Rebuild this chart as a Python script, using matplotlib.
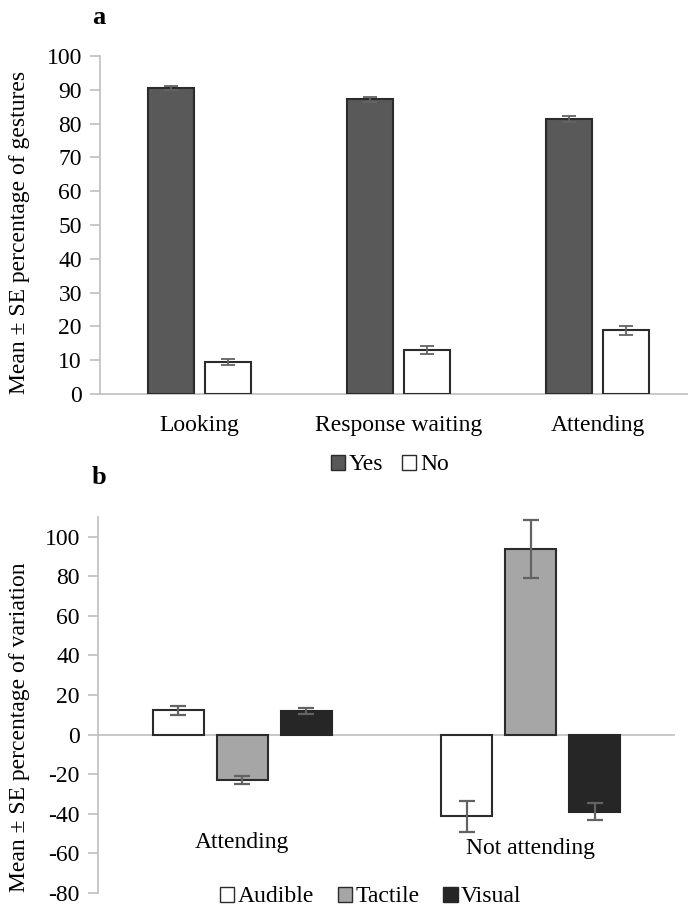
import numpy as np
import matplotlib.pyplot as plt
from matplotlib.patches import Patch

plt.rcParams['font.family'] = ['Liberation Serif', 'DejaVu Serif']
plt.rcParams['axes.unicode_minus'] = False

# panel a
cats_a = ['Looking', 'Response waiting', 'Attending']
yes_mean = [90.6, 87.2, 81.3]
yes_se = [0.6, 0.7, 0.9]
no_mean = [9.5, 13.0, 18.8]
no_se = [0.9, 1.1, 1.2]

# panel b
cats_b = ['Attending', 'Not attending']
aud_mean = [12.3, -41.4]
aud_se = [2.3, 8.0]
tac_mean = [-22.9, 94.0]
tac_se = [2.0, 14.7]
vis_mean = [12.0, -39.0]
vis_se = [1.4, 4.4]

axis_col = '#bfbfbf'
err_col = '#636363'
edge_col = '#2b2b2b'
fs = 17

fig = plt.figure(figsize=(6.88, 9.10), dpi=100)

# ---------- a ----------
ax1 = fig.add_axes([100/688, 1-394/910, 597/688, 338/910])
x = np.arange(len(cats_a))
w = 0.231
ax1.bar(x - 0.143, yes_mean, w, yerr=yes_se, color='#595959', edgecolor=edge_col,
        linewidth=1.5, error_kw=dict(ecolor=err_col, elinewidth=1.3, capsize=5, capthick=1.3))
ax1.bar(x + 0.143, no_mean, w, yerr=no_se, color='white', edgecolor=edge_col,
        linewidth=1.5, error_kw=dict(ecolor=err_col, elinewidth=1.3, capsize=5, capthick=1.3))
ax1.set_xlim(-0.5, 2.5)
ax1.set_ylim(0, 100)
ax1.set_yticks(np.arange(0, 101, 10))
ax1.set_xticks(x)
ax1.set_xticklabels(cats_a)
for s in ['top', 'right']:
    ax1.spines[s].set_visible(False)
for s in ['left', 'bottom']:
    ax1.spines[s].set_color(axis_col)
    ax1.spines[s].set_linewidth(1.2)
ax1.tick_params(axis='y', colors=axis_col, labelcolor='black', labelsize=fs, length=7, width=1.2, pad=6)
ax1.tick_params(axis='x', length=0, labelsize=fs, pad=15)
ax1.spines['bottom'].set_zorder(0)

fig.text(20/688, 1-232/910, 'Mean ± SE percentage of gestures', rotation=90,
         ha='center', va='center', fontsize=fs)
fig.text(99/688, 1-17/910, 'a', fontsize=19, fontweight='bold', ha='center', va='center')

leg_a = [Patch(facecolor='#595959', edgecolor=edge_col, label='Yes'),
         Patch(facecolor='white', edgecolor=edge_col, label='No')]
fig.legend(handles=leg_a, loc='center', bbox_to_anchor=(390/688, 1-465/910), ncol=2,
           frameon=False, fontsize=fs, handlelength=0.6, handleheight=0.6,
           handletextpad=0.15, columnspacing=0.8)

# ---------- b ----------
ax2 = fig.add_axes([98/688, 1-892.7/910, 577/688, (892.7-517)/910])
xb = np.arange(len(cats_b))
wb = 0.177
off = 0.222
ekw = dict(ecolor=err_col, elinewidth=1.6, capsize=6, capthick=1.6)
ax2.bar(xb - off, aud_mean, wb, yerr=aud_se, color='white', edgecolor=edge_col,
        linewidth=1.5, error_kw=ekw)
ax2.bar(xb, tac_mean, wb, yerr=tac_se, color='#a6a6a6', edgecolor=edge_col,
        linewidth=1.5, error_kw=ekw)
ax2.bar(xb + off, vis_mean, wb, yerr=vis_se, color='#262626', edgecolor='#262626',
        linewidth=1.5, error_kw=ekw)
ax2.axhline(0, color=axis_col, linewidth=1.2, zorder=0)
ax2.set_xlim(-0.5, 1.5)
ax2.set_ylim(-80, 110)
yt = np.arange(-80, 101, 20)
ax2.set_yticks(yt)
ax2.set_yticklabels([str(v) for v in yt])
ax2.set_xticks([])
for s in ['top', 'right', 'bottom']:
    ax2.spines[s].set_visible(False)
ax2.spines['left'].set_color(axis_col)
ax2.spines['left'].set_linewidth(1.2)
ax2.tick_params(axis='y', colors=axis_col, labelcolor='black', labelsize=fs, length=7, width=1.2, pad=6)
ax2.text(xb[0], -54.5, cats_b[0], ha='center', va='center', fontsize=fs)
ax2.text(xb[1], -57.5, cats_b[1], ha='center', va='center', fontsize=fs)

fig.text(20/688, 1-727/910, 'Mean ± SE percentage of variation', rotation=90,
         ha='center', va='center', fontsize=fs)
fig.text(99/688, 1-477/910, 'b', fontsize=19, fontweight='bold', ha='center', va='center')

leg_b = [Patch(facecolor='white', edgecolor=edge_col, label='Audible'),
         Patch(facecolor='#a6a6a6', edgecolor=edge_col, label='Tactile'),
         Patch(facecolor='#262626', edgecolor='#262626', label='Visual')]
fig.legend(handles=leg_b, loc='center', bbox_to_anchor=(371/688, 1-897/910), ncol=3,
           frameon=False, fontsize=fs, handlelength=0.6, handleheight=0.6,
           handletextpad=0.15, columnspacing=1.0)

fig.savefig('out.png', dpi=100)
